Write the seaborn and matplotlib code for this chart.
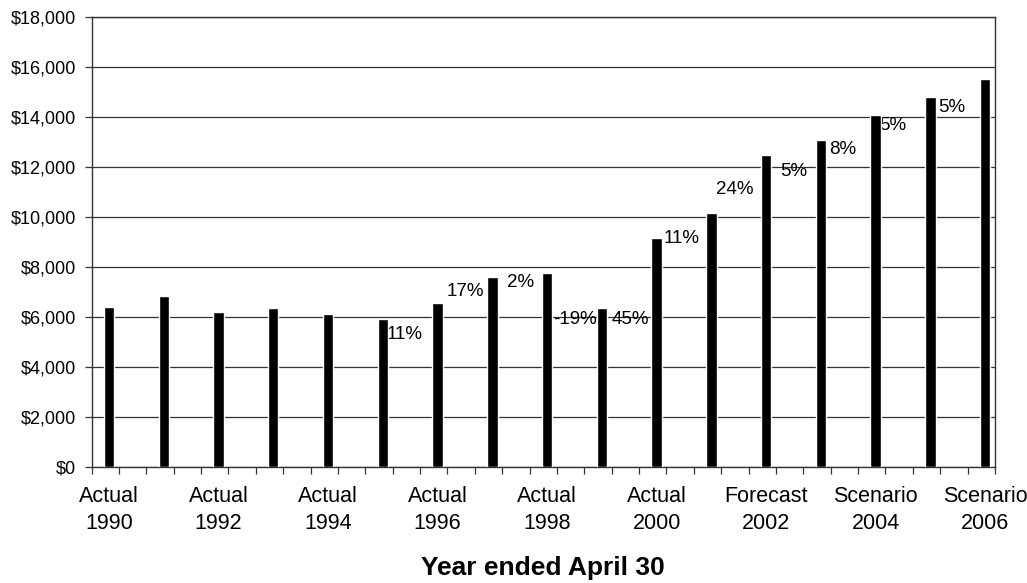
import matplotlib
matplotlib.use("Agg")
import matplotlib.pyplot as plt
from matplotlib.ticker import FuncFormatter
import seaborn as sns
import pandas as pd

# Annual values, fiscal years ended April 30
years = [1990, 1991, 1992, 1993, 1994, 1995, 1996, 1997, 1998,
         1999, 2000, 2001, 2002, 2003, 2004, 2005, 2006]
values = [6400, 6830, 6190, 6350, 6130, 5900, 6570, 7590, 7750,
          6350, 9150, 10150, 12480, 13080, 14080, 14800, 15530]

# Category names shown under every second year
year_status = {1990: "Actual", 1992: "Actual", 1994: "Actual", 1996: "Actual",
               1998: "Actual", 2000: "Actual", 2002: "Forecast",
               2004: "Scenario", 2006: "Scenario"}

# Growth annotations, keyed by the year of the bar they follow
pct_years = [1995, 1996, 1997, 1998, 1999, 2000, 2001, 2002, 2003, 2004, 2005]
pct_labels = ["11%", "17%", "2%", "-19%", "45%", "11%", "24%", "5%", "8%", "5%", "5%"]

df = pd.DataFrame({"year": [str(y) for y in years], "value": values})

sns.set_theme(style="white")
plt.rcParams["font.family"] = ["Liberation Sans", "DejaVu Sans"]

fig = plt.figure(figsize=(10.27, 5.83), dpi=100)
ax = fig.add_axes([0.0891, 0.1995, 0.9688 - 0.0891, 0.9708 - 0.1995])

sns.barplot(data=df, x="year", y="value", order=df["year"], color="black",
            width=0.19, saturation=1, ax=ax, zorder=3)

# Label placement (horizontal offset from the bar, text centre height)
label_spots = [(0.40, 5280), (0.50, 7000), (0.52, 7360), (0.51, 5880),
               (0.53, 5880), (0.45, 9120), (0.42, 11080), (0.50, 11800),
               (0.39, 12680), (0.32, 13640), (0.40, 14360)]
for yr, txt, (dx, ty) in zip(pct_years, pct_labels, label_spots):
    i = years.index(yr)
    ax.text(i + dx, ty, txt, ha="center", va="center", fontsize=13.5,
            color="black", zorder=2)

# Axes range and grid
ax.set_xlim(-0.32, 16.18)
ax.set_ylim(0, 18000)
ax.set_yticks(range(0, 18001, 2000))
ax.yaxis.set_major_formatter(FuncFormatter(lambda v, p: f"${v:,.0f}"))
ax.grid(axis="y", color="#333333", linewidth=0.9)
ax.set_axisbelow(True)

major_pos = [years.index(y) for y in year_status]
ax.set_xticks(major_pos)
ax.set_xticklabels([f"{year_status[y]}\n{y}" for y in year_status],
                   linespacing=1.35)
ax.set_xticks([-0.32 + 0.5 * k for k in range(34)], minor=True)

ax.tick_params(axis="x", which="major", length=0, pad=14, labelsize=15.5,
               colors="black")
ax.tick_params(axis="x", which="minor", bottom=True, length=5, width=0.9,
               direction="out", color="#333333")
ax.tick_params(axis="y", left=True, length=5, width=0.9, pad=6,
               labelsize=13, color="#333333", labelcolor="black")

for side in ["left", "right", "top", "bottom"]:
    ax.spines[side].set_visible(True)
    ax.spines[side].set_color("#333333")
    ax.spines[side].set_linewidth(1.0)

ax.set_ylabel("")
ax.set_xlabel("Year ended April 30", fontsize=19, fontweight="bold",
              labelpad=16, color="black")

fig.savefig("out.png", dpi=100, facecolor="white")
